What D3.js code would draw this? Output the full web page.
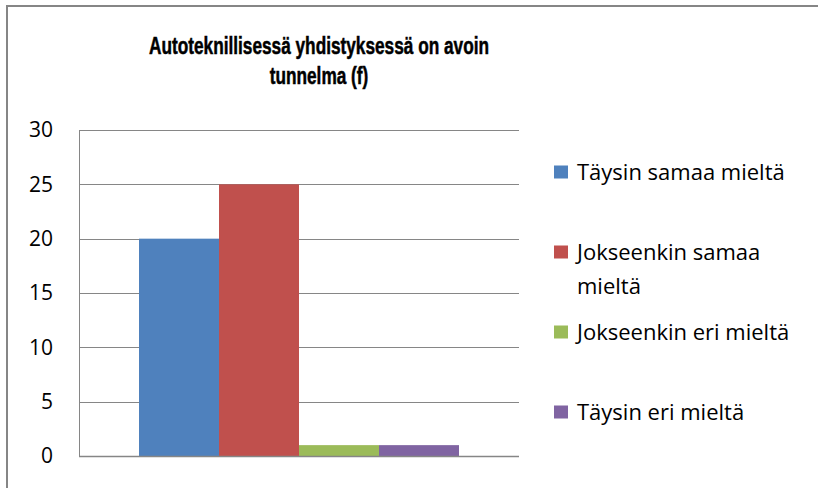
<!DOCTYPE html>
<html>
<head>
<meta charset="utf-8">
<script src="https://cdn.jsdelivr.net/npm/d3@7"></script>
<style>
  body { margin: 0; background: #fff; }
  svg { display: block; }
</style>
</head>
<body>
<div id="chart"></div>
<script>
let width = 818
let height = 488

// data
let categories = ['Täysin samaa mieltä', 'Jokseenkin samaa mieltä', 'Jokseenkin eri mieltä', 'Täysin eri mieltä']
let values = [20, 25, 1, 1]
let colors = ['#4f81bd', '#c0504d', '#9bbb59', '#8064a2']
let yTicks = [0, 5, 10, 15, 20, 25, 30]
let titleLines = ['Autoteknillisessä yhdistyksessä on avoin', 'tunnelma (f)']
// legend labels split the way the picture wraps them
let legendLines = [['Täysin samaa mieltä'], ['Jokseenkin samaa', 'mieltä'], ['Jokseenkin eri mieltä'], ['Täysin eri mieltä']]

let margin = {
  'top' : 130,
  'left' : 79,
  'right' : 299,
  'bottom' : 32
}

let svg = d3.select('#chart').append('svg')
  .attr('width', width)
  .attr('height', height)

// outer frame (only top and left edge show)
svg.append('path')
  .attr('d', 'M7,' + height + 'V6H' + width)
  .attr('fill', 'none')
  .attr('stroke', '#868686')
  .attr('stroke-width', 2)

let innerW = width - margin.left - margin.right
let innerH = height - margin.top - margin.bottom

let yScale = d3.scaleLinear()
  .domain([0, 30])
  .range([innerH, 0])

// one group, the bars fill the middle of it
let xScale = d3.scaleBand()
  .domain(categories)
  .range([60, innerW - 60])
  .padding(0)

let inner = svg.append('g')
  .attr('transform', 'translate(' + margin.left + ',' + margin.top + ')')

// gridlines
inner.append('g')
  .selectAll('line')
  .data(yTicks)
  .enter().append('line')
  .attr('x1', 0)
  .attr('x2', innerW)
  .attr('y1', d => Math.round(yScale(d)) + 0.5)
  .attr('y2', d => Math.round(yScale(d)) + 0.5)
  .attr('stroke', '#868686')
  .attr('stroke-width', 1)

let yAxis = inner.append('g').call(
  d3.axisLeft()
    .scale(yScale)
    .tickValues(yTicks)
    .tickSize(0)
    .tickPadding(26)
)
yAxis.select('.domain').attr('stroke', '#868686')
yAxis.selectAll('text')
  .attr('font-family', 'Open Sans, sans-serif')
  .attr('font-size', 21)
  .attr('fill', '#000')

inner.selectAll('rect.bar')
  .data(values)
  .enter().append('rect')
  .attr('class', 'bar')
  .attr('x', (d, i) => xScale(categories[i]))
  .attr('width', xScale.bandwidth())
  .attr('y', d => yScale(d))
  .attr('height', d => innerH - yScale(d))
  .attr('fill', (d, i) => colors[i])

// x axis line drawn over the bars
inner.append('line')
  .attr('x1', 0)
  .attr('x2', innerW)
  .attr('y1', innerH + 0.5)
  .attr('y2', innerH + 0.5)
  .attr('stroke', '#868686')
  .attr('stroke-width', 1.5)

// title, squeezed to the narrow look of the original
let title = svg.append('text')
  .attr('x', 319)
  .attr('y', 54)
  .attr('text-anchor', 'middle')
  .attr('font-family', 'Liberation Sans, Arial, sans-serif')
  .attr('font-weight', 'bold')
  .attr('font-size', 23)
  .attr('stroke', '#000')
  .attr('stroke-width', 0.5)

let tspans = title.selectAll('tspan')
  .data(titleLines)
  .enter().append('tspan')
  .attr('x', 319)
  .attr('dy', (d, i) => i == 0 ? 0 : 30)
  .text(d => d)

let squeeze = 340 / tspans.nodes()[0].getComputedTextLength()
tspans.each(function () {
  let len = this.getComputedTextLength()
  d3.select(this)
    .attr('textLength', len * squeeze)
    .attr('lengthAdjust', 'spacingAndGlyphs')
})

// legend
let legendY = [172, 252, 332, 412]
let legend = svg.append('g')
  .selectAll('g')
  .data(legendLines)
  .enter().append('g')
  .attr('transform', (d, i) => 'translate(554,' + legendY[i] + ')')

legend.append('rect')
  .attr('x', 0)
  .attr('y', -6.5)
  .attr('width', 14)
  .attr('height', 13)
  .attr('fill', (d, i) => colors[i])

legend.append('text')
  .attr('font-family', 'Open Sans, sans-serif')
  .attr('font-size', 22)
  .attr('fill', '#000')
  .selectAll('tspan')
  .data(d => d)
  .enter().append('tspan')
  .attr('x', 23)
  .attr('y', (d, i) => 8 + i * 34)
  .text(d => d)
</script>
</body>
</html>
